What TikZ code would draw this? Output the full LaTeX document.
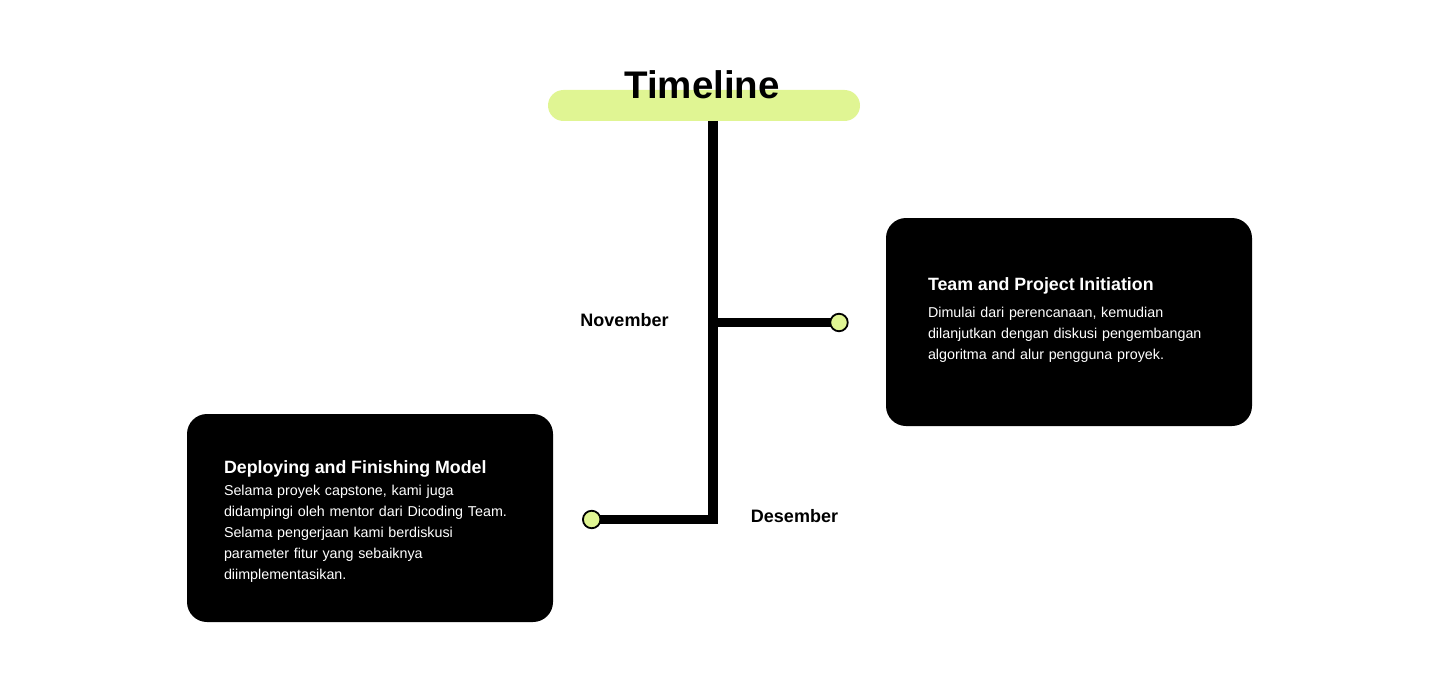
\documentclass[tikz,border=0pt]{standalone}
\usepackage{fontspec}
\setmainfont{Liberation Sans}
\usepackage{xcolor}
\definecolor{pillgreen}{HTML}{E0F593}
\newcommand{\cardtitlefont}{\fontsize{17.8}{21}\selectfont\bfseries}

\begin{document}
\begin{tikzpicture}[x=1pt, y=-1pt,
pill/.style={rectangle, fill=pillgreen, rounded corners=15.5pt, minimum width=312pt, minimum height=31pt, inner sep=0pt},
card/.style={rectangle, fill=black, rounded corners=20pt, text=white, align=left, inner ysep=0pt, minimum height=208pt, font=\fontsize{14.3}{21}\selectfont},
dot/.style={circle, draw=black, line width=1.8pt, fill=pillgreen, minimum size=17.5pt, inner sep=0pt},
month/.style={font=\fontsize{18}{21}\selectfont\bfseries, anchor=base},
stem/.style={line width=9.5pt, line join=miter},
]
\useasboundingbox (0,0) rectangle (1440,682);
%Nodes
\node[pill] (pill) at (704,105.5) {};
\node[font=\fontsize{38.5}{40}\selectfont\bfseries, anchor=base] (title) at (702,99) {Timeline};
\node[coordinate] (top) at (713,121) {};
\node[coordinate] (fork) at (713,322.5) {};
\node[coordinate] (bend) at (713,519.5) {};
\node[coordinate] (novend) at (839,322.5) {};
\node[coordinate] (desend) at (591.7,519.5) {};
\node[month] (nov) at (624.5,326.3) {November};
\node[month] (des) at (794.5,522.3) {Desember};
\node[card, text width=282pt, inner xsep=42pt] (init) at (1069,322) {{\cardtitlefont Team and Project Initiation}\\[6pt]
Dimulai dari perencanaan, kemudian\\
dilanjutkan dengan diskusi pengembangan\\
algoritma and alur pengguna proyek.\rule[-6pt]{0pt}{1pt}};
\node[card, text width=292pt, inner xsep=37pt] (deploy) at (370,518) {\rule{0pt}{19pt}{\cardtitlefont Deploying and Finishing Model}\\[1pt]
Selama proyek capstone, kami juga\\
didampingi oleh mentor dari Dicoding Team.\\
Selama pengerjaan kami berdiskusi\\
parameter fitur yang sebaiknya\\
diimplementasikan.};

%Lines
\draw[stem] (top) -- (bend) -- (desend);
\draw[stem] (fork) -- (novend);
\node[dot] (novdot) at (novend) {};
\node[dot] (desdot) at (desend) {};
\end{tikzpicture}
\end{document}
